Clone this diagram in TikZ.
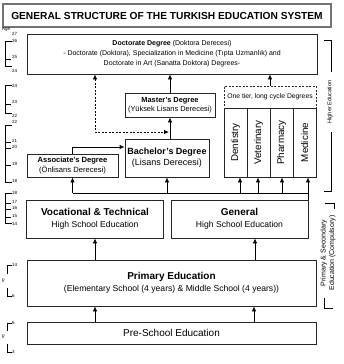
\documentclass[tikz,border=0pt]{standalone}
\usepackage{fontspec}
\setmainfont{Liberation Sans}
\usetikzlibrary{positioning}
\usetikzlibrary{arrows.meta}
\usetikzlibrary{calc}
\tikzstyle{stage}=[draw=black!85,line width=0.8pt,inner sep=1pt,align=center]
\tikzstyle{column}=[stage,rotate=90,minimum width=69pt,minimum height=23pt,font=\fontsize{9.8}{11}\selectfont]
\tikzstyle{edge} = [draw,line width=0.8pt,-{Latex[length=5pt,width=4.5pt]}]
\tikzstyle{dashededge} = [draw,line width=0.8pt,dash pattern=on 2pt off 1.5pt,{Latex[length=5pt,width=4.5pt]}-{Latex[length=5pt,width=4.5pt]}]
\tikzstyle{bracket} = [draw,line width=0.6pt]
\tikzstyle{agelabel} = [font=\fontsize{4.5}{5}\selectfont,inner sep=0pt,anchor=west]
\tikzstyle{sidelabel} = [font=\fontsize{6}{7}\selectfont,rotate=90,align=center,inner sep=1pt]
\newcommand{\headfont}{\fontsize{10}{12}\selectfont\bfseries}
\newcommand{\subfont}{\fontsize{8.6}{12}\selectfont}

\begin{document}
\begin{tikzpicture}[x=1pt,y=-1pt]
    \useasboundingbox (0,0) rectangle (344,364);

    % title
    \node[draw=black!55,line width=1.5pt,minimum width=328pt,minimum height=23pt,font=\fontsize{10.2}{12}\selectfont\bfseries] (title) at (167,15.5) {GENERAL STRUCTURE OF THE TURKISH EDUCATION SYSTEM};

    % higher education
    \node[stage,minimum width=290pt,minimum height=40pt,font=\fontsize{7}{10}\selectfont] (doctorate) at (172,54)
        {\textbf{Doctorate Degree} (Doktora Derecesi)\\- Doctorate (Doktora), Specialization in Medicine (Tıpta Uzmanlık) and\\Doctorate in Art (Sanatta Doktora) Degrees-};
    \node[stage,minimum width=90pt,minimum height=24pt,font=\fontsize{7.4}{9}\selectfont] (master) at (170,105)
        {\textbf{Master's Degree}\\(Yüksek Lisans Derecesi)};
    \node[stage,minimum width=84pt,minimum height=38pt,font=\fontsize{9}{11}\selectfont] (bachelor) at (167,158)
        {\textbf{Bachelor's Degree}\\(Lisans Derecesi)};
    \node[stage,minimum width=91pt,minimum height=23pt,font=\fontsize{7.6}{9.5}\selectfont] (associate) at (72.5,165.5)
        {\textbf{Associate's Degree}\\(Önlisans Derecesi)};
    \node[stage,dash pattern=on 2pt off 1.5pt,minimum width=92pt,minimum height=22pt,font=\fontsize{6.8}{8}\selectfont] (onetier) at (270,97)
        {One tier, long cycle Degrees};

    \foreach \x/\name/\label in {235.5/dent/Dentistry, 258.5/vet/Veterinary, 281.5/pharm/Pharmacy, 304.5/med/Medicine}
        \node[column] (\name) at (\x,142.5) {\label};

    % secondary, primary, pre-school
    \foreach \pos/\name/\title in {{(95,219)/vocational/Vocational \& Technical}, {(239.5,219)/general/General}}
        \node[stage,minimum width=137pt,minimum height=38pt] (\name) at \pos {{\headfont \title}\\{\subfont High School Education}};

    \node[stage,minimum width=289pt,minimum height=46pt] (primary) at (171.5,283)
        {{\headfont Primary Education}\\{\subfont (Elementary School (4 years) \& Middle School (4 years))}};
    \node[stage,minimum width=289pt,minimum height=22pt,font=\fontsize{10}{12}\selectfont] (preschool) at (171.5,333) {Pre-School Education};

    % connectors
    \coordinate (busleft) at (72.5,193);
    \coordinate (busright) at (308,193);
    \coordinate (dashcorner) at (95,132);

    \path[edge] (onetier.north) -- (onetier.north |- doctorate.south);
    \path[edge] (master.north) -- (master.north |- doctorate.south);
    \path[edge] (master.south |- bachelor.north) -- (master.south);
    \path[dashededge] (dashcorner |- doctorate.south) -- (dashcorner) -- ([xshift=-1pt]dashcorner -| master.south);
    \path[edge] (associate.north) |- ([yshift=11pt]bachelor.west);

    \draw[line width=0.8pt] (busleft) -- (busright);
    \path[edge] (busleft) -- (associate.south);
    \path[edge] (busleft -| 167,0) -- (167,0 |- bachelor.south);
    \foreach \x in {240,258,282}
        \path[edge] (busleft -| \x,0) -- (\x,0 |- dent.west);
    \path[edge] (busright |- general.north) -- (busright |- dent.west);

    \path[edge] (vocational.south |- primary.north) -- (vocational.south);
    \path[edge] (255,0 |- primary.north) -- (255,0 |- general.south);
    \foreach \x in {95,254}
        \path[edge] (\x,0 |- preschool.north) -- (\x,0 |- primary.south);

    % age scale
    \node[agelabel] (agetitle) at (2,29) {Age};
    \draw[bracket] (12,41) -| (5,66) -- (12,66);
    \draw[bracket] (12,85) -| (5,113) -- (12,113);
    \draw[bracket] (12,125) -| (5,182) -- (12,182);
    \draw[bracket] (12,193) -| (5,223) -- (12,223);
    \draw[bracket] (12,265) -| (7,274);
    \draw[bracket] (7,288) |- (12,296);
    \draw[bracket] (12,323) -| (7,331);
    \draw[bracket] (7,344) |- (12,352);
    \foreach \y in {59,104,142,148,165,203,209,217}
        \draw[bracket] (5,\y) -- (11,\y);
    \foreach \y/\a [count=\i] in {34/27, 41/26, 57/25, 71/24, 86/24, 102/23, 116/22, 122/22, 141/21, 147/20, 164/19, 181/18,
                                  193/18, 202/17, 208/16, 216/15, 224/14, 265/14, 296/6, 323/6, 352/3}
        \node[agelabel] (age\i) at (12,\y) {\a};
    \foreach \y/\name in {281/breakprim, 337/breakpre}
        \node[font=\fontsize{7}{7}\selectfont,rotate=90,inner sep=0pt] (\name) at (4,\y) {≈};

    % side brackets
    \draw[bracket] (324,40) -| (331,72);
    \node[sidelabel,font=\fontsize{5.6}{7}\selectfont] (higher) at (330,102) {Higher Education};
    \draw[bracket] (331,132) |- (324,191);
    \draw[bracket] (325,203) -| (334,209);
    \node[sidelabel,font=\fontsize{7}{8.5}\selectfont] (compulsory) at (328,253) {Primary \& Secondary\\Education (Compulsory)};
    \draw[bracket] (324,298) |- (333,308);

\end{tikzpicture}
\end{document}
